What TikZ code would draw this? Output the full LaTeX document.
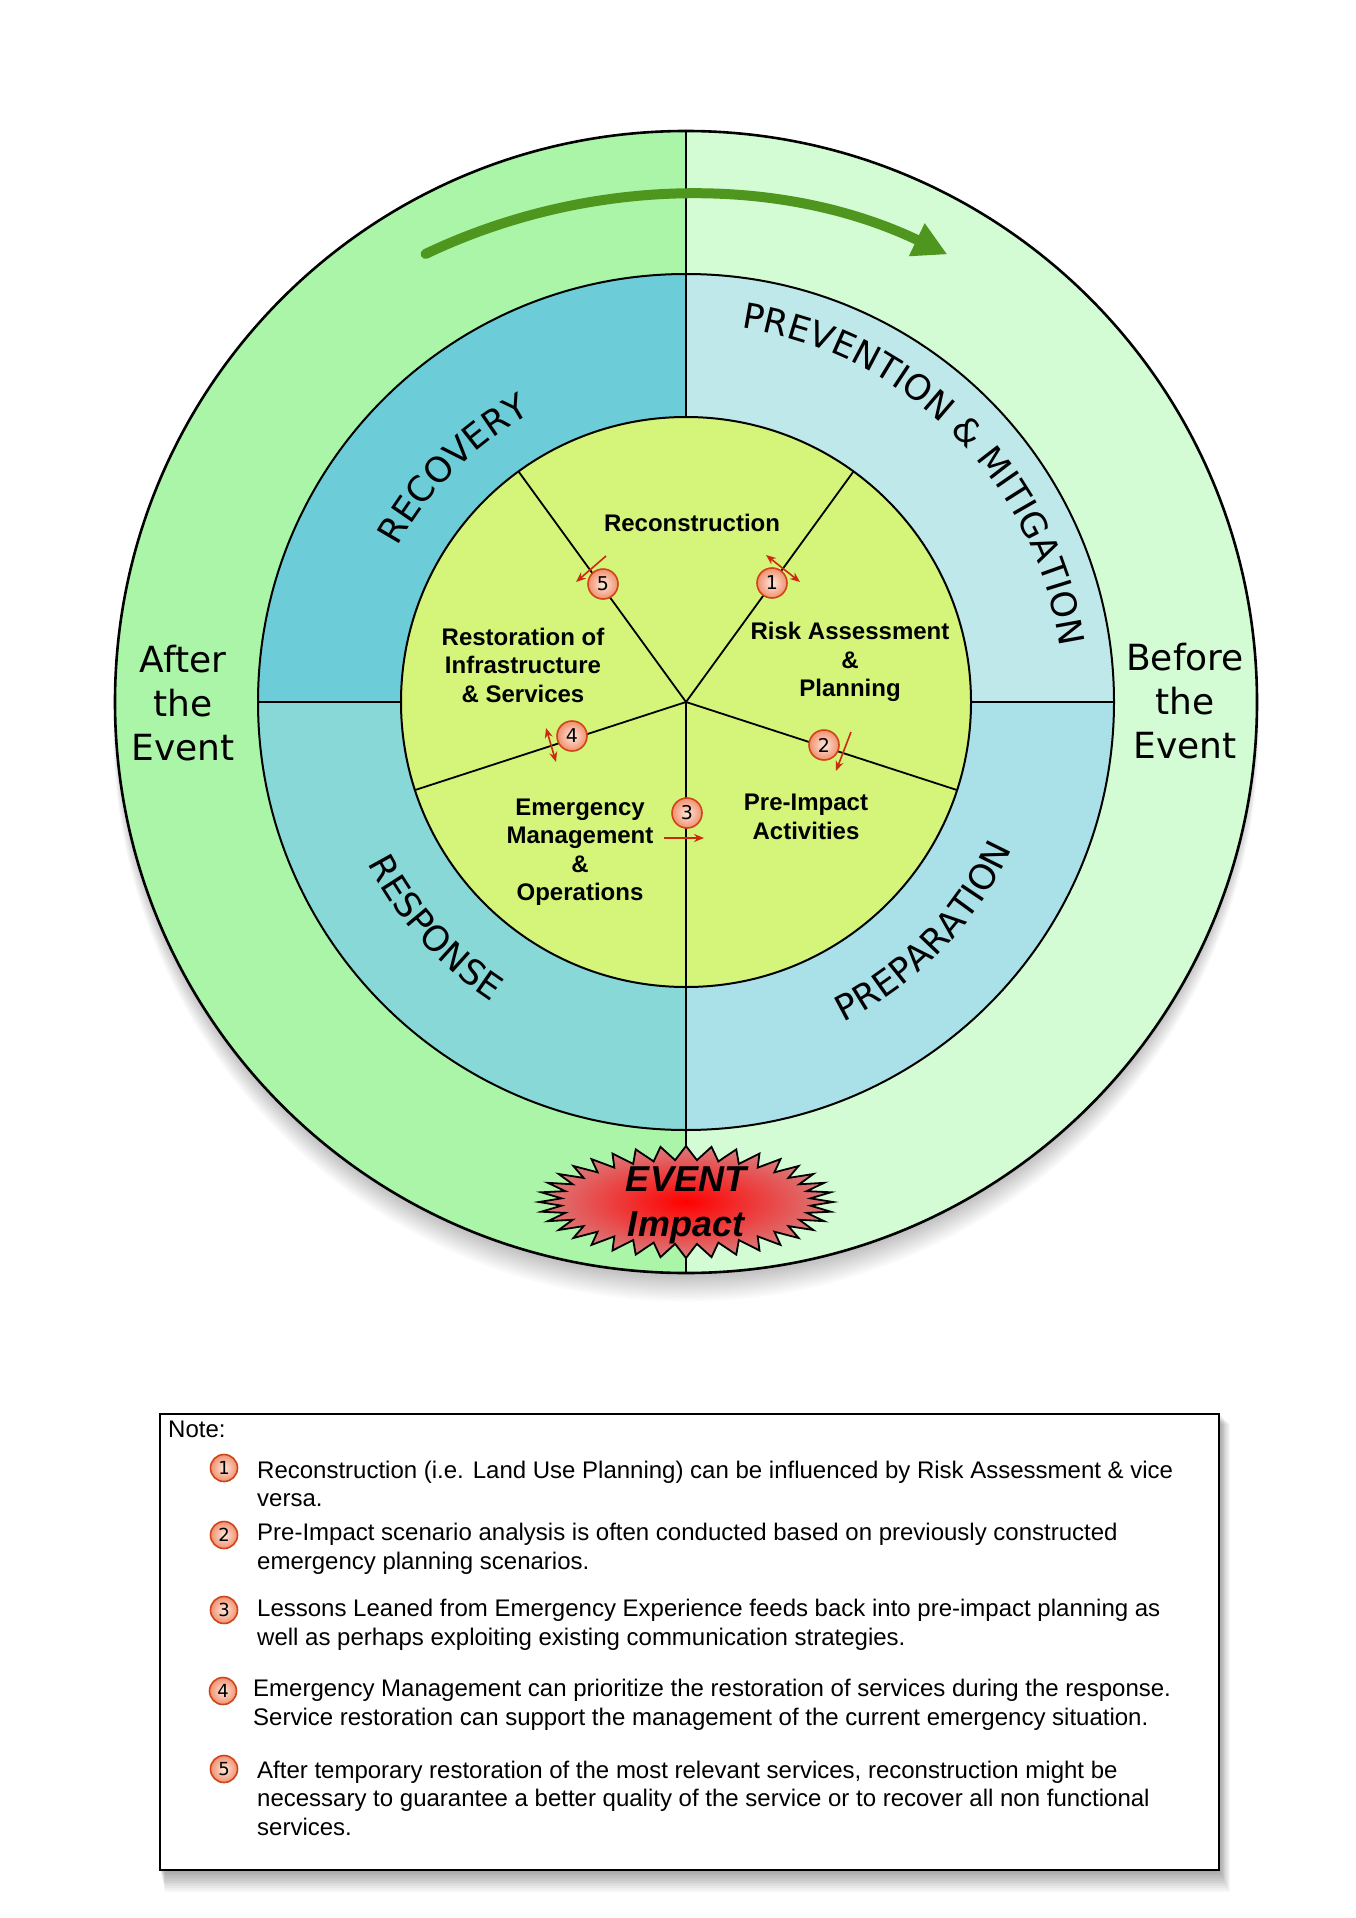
\documentclass[tikz,border=0pt]{standalone}
\usepackage{fontspec}
\setmainfont{Liberation Sans}
\newfontfamily\dv{DejaVu Sans}
\usetikzlibrary{decorations.text,arrows.meta}
\definecolor{afterg}{HTML}{AAF5A8}
\definecolor{beforeg}{HTML}{D4FCD4}
\definecolor{recov}{HTML}{6CCCD8}
\definecolor{prevc}{HTML}{BEE8EA}
\definecolor{respc}{HTML}{88D8D8}
\definecolor{prepc}{HTML}{AAE0E8}
\definecolor{innerc}{HTML}{D4F57A}
\definecolor{arrowg}{HTML}{4E961E}
\definecolor{mkborder}{HTML}{D04418}
\definecolor{mkin}{HTML}{FFE8DA}
\definecolor{mkout}{HTML}{F09070}
\definecolor{redarr}{HTML}{CC2A10}
\definecolor{burstout}{HTML}{DA7C7C}
\newcommand\curvefont{\dv\fontsize{35}{35}\selectfont}
\tikzset{
  lbl/.style={font=\bfseries\fontsize{24}{28.5}\selectfont, align=center, inner sep=0pt},
  sidetxt/.style={font=\dv\fontsize{36}{44}\selectfont, align=center, inner sep=0pt},
  mk/.style={circle, draw=mkborder, line width=1.6pt, inner color=mkin, outer color=mkout,
    minimum size=30pt, inner sep=0pt, font=\dv\fontsize{19}{19}\selectfont},
  mks/.style={mk, minimum size=27pt, font=\dv\fontsize{18}{18}\selectfont},
  redarrow/.style={draw=redarr, line width=1.6pt, -{Stealth[length=10pt,width=8pt]}},
  redarrow2/.style={draw=redarr, line width=1.6pt, {Stealth[length=10pt,width=8pt]}-{Stealth[length=10pt,width=8pt]}},
  notetxt/.style={font=\fontsize{24}{28.5}\selectfont, align=left, inner sep=0pt, anchor=west},
  ringline/.style={line width=2pt, draw=black},
  curved/.style={decorate, decoration={text along path, text align=center, text={|\curvefont|#1}}}
}
\begin{document}
\begin{tikzpicture}[x=1pt,y=1pt]
\useasboundingbox (0,0) rectangle (1356,-1918);
\fill[white] (0,0) rectangle (1356,-1918);

% soft shadow of the disc (mostly below)
\foreach \s in {1,...,14} \fill[black, opacity=0.018] (686,-702-\s*1.9) circle[radius=568+\s*0.35];

\begin{scope}[shift={(686,-702)}]
  % outer ring halves
  \fill[afterg] (0,0) -- (90:571) arc[start angle=90, end angle=270, radius=571] -- cycle;
  \fill[beforeg] (0,0) -- (90:571) arc[start angle=90, end angle=-90, radius=571] -- cycle;
  % middle quadrants
  \fill[recov] (0,0) -- (90:428) arc[start angle=90, end angle=180, radius=428] -- cycle;
  \fill[prevc] (0,0) -- (90:428) arc[start angle=90, end angle=0, radius=428] -- cycle;
  \fill[respc] (0,0) -- (180:428) arc[start angle=180, end angle=270, radius=428] -- cycle;
  \fill[prepc] (0,0) -- (270:428) arc[start angle=270, end angle=360, radius=428] -- cycle;
  % inner disc
  \fill[innerc] (0,0) circle[radius=285];
  % outlines
  \draw[line width=2.6pt] (0,0) circle[radius=571];
  \draw[ringline] (0,0) circle[radius=428];
  \draw[ringline] (0,0) circle[radius=285];
  % dividers
  \draw[ringline] (0,571) -- (0,285);
  \draw[ringline] (0,0) -- (0,-571);
  \draw[ringline] (-428,0) -- (-285,0);
  \draw[ringline] (285,0) -- (428,0);
  % spokes
  \foreach \a in {126,54,-18,198} \draw[line width=1.8pt] (0,0) -- (\a:285);
  % curved phase labels
  \path[curved={RECOVERY}] (180:327) arc[start angle=180, end angle=90, radius=327];
  \path[curved={PREVENTION {\&} MITIGATION}] (135:378) arc[start angle=135, end angle=-45, radius=378];
  \path[curved={RESPONSE}] (177:357) arc[start angle=177, end angle=267, radius=357];
  \path[curved={PREPARATION}] (-89:357) arc[start angle=-89, end angle=1, radius=357];
\end{scope}

% green cycle arrow
\begin{scope}[shift={(686,-800)}]
  \draw[arrowg, line width=10pt, line cap=round, -{Triangle[length=34pt,width=34pt]}]
    (115.5:605) arc[start angle=115.5, end angle=64.4, radius=605];
\end{scope}

% side texts
\node[sidetxt] (after) at (183,-703) {After\\the\\Event};
\node[sidetxt] (before) at (1185,-701) {Before\\the\\Event};

% sector labels
\node[lbl] (recon) at (692,-523) {Reconstruction};
\node[lbl] (resto) at (523,-665) {Restoration of\\Infrastructure\\\& Services};
\node[lbl] (risk) at (850,-662) {Risk Assessment\\\&\\Planning};
\node[lbl] (preimp) at (806,-817) {Pre-Impact\\Activities};
\node[lbl] (emerg) at (580,-852) {Emergency\\Management\\\&\\Operations};

% interaction arrows
\coordinate (a1s) at (766,-555); \coordinate (a1e) at (800,-582);
\coordinate (a5s) at (606,-556); \coordinate (a5e) at (576,-582);
\coordinate (a4s) at (546,-728); \coordinate (a4e) at (556,-762);
\coordinate (a2s) at (851,-732); \coordinate (a2e) at (836,-771);
\coordinate (a3s) at (664,-838); \coordinate (a3e) at (704,-838);
\draw[redarrow2] (a1s) -- (a1e);
\draw[redarrow] (a5s) -- (a5e);
\draw[redarrow2] (a4s) -- (a4e);
\draw[redarrow] (a2s) -- (a2e);
\draw[redarrow] (a3s) -- (a3e);

% markers
\node[mk] (m1) at (772,-583) {1};
\node[mk] (m2) at (824,-745) {2};
\node[mk] (m3) at (687,-813) {3};
\node[mk] (m4) at (572,-736) {4};
\node[mk] (m5) at (603,-584) {5};

% event burst
\begin{scope}[shift={(686,-1202)}]
  \path[draw=black, line width=1.8pt, inner color=red, outer color=burstout]
    plot[variable=\t, samples at={0,5,...,355}]
      ({(147-22*mod(round(\t/5),2))*cos(\t)}, {(56-14*mod(round(\t/5),2))*sin(\t)}) -- cycle;
\end{scope}
\node[font=\bfseries\itshape\fontsize{36}{45}\selectfont, align=center, inner sep=0pt] (event) at (686,-1205) {EVENT\\Impact};

% note box with soft shadow
\foreach \s in {1,...,12} \fill[black, opacity=0.03] (160+\s*0.4,-1414-\s*0.8) rectangle (1219+\s*0.9,-1870-\s*1.8);
\draw[fill=white, line width=1.8pt] (160,-1414) rectangle (1219,-1870);
\node[notetxt] (note) at (168,-1429) {Note:};

\node[mks] (n1) at (224,-1468) {1};
\node[notetxt] (t1) at (257,-1484) {Reconstruction (i.e. Land Use Planning) can be influenced by Risk Assessment \& vice\\versa.};
\node[mks] (n2) at (224,-1535) {2};
\node[notetxt] (t2) at (257,-1549) {Pre-Impact scenario analysis is often conducted based on previously constructed\\emergency planning scenarios.};
\node[mks] (n3) at (224,-1610) {3};
\node[notetxt] (t3) at (257,-1625) {Lessons Leaned from Emergency Experience feeds back into pre-impact planning as\\well as perhaps exploiting existing communication strategies.};
\node[mks] (n4) at (223,-1691) {4};
\node[notetxt] (t4) at (253,-1705) {Emergency Management can prioritize the restoration of services during the response.\\Service restoration can support the management of the current emergency situation.};
\node[mks] (n5) at (224,-1769) {5};
\node[notetxt] (t5) at (257,-1798) {After temporary restoration of the most relevant services, reconstruction might be\\necessary to guarantee a better quality of the service or to recover all non functional\\services.};
\end{tikzpicture}
\end{document}
